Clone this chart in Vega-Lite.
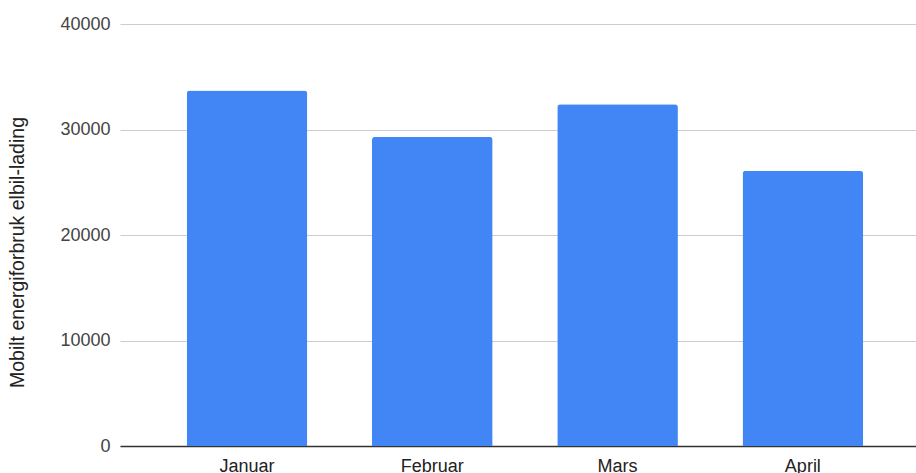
{
  "$schema": "https://vega.github.io/schema/vega-lite/v6.json",
  "autosize": "none",
  "width": 796,
  "height": 422,
  "padding": {"left": 120, "top": 24, "right": 0, "bottom": 27},
  "config": {
    "view": {"stroke": null},
    "font": "Liberation Sans"
  },
  "data": {
    "values": [
      {"maaned": "Januar", "verdi": 33700},
      {"maaned": "Februar", "verdi": 29300},
      {"maaned": "Mars", "verdi": 32400},
      {"maaned": "April", "verdi": 26100}
    ]
  },
  "mark": {"type": "bar", "color": "#4285F4", "cornerRadiusTopLeft": 3, "cornerRadiusTopRight": 3},
  "encoding": {
    "x": {
      "field": "maaned",
      "type": "nominal",
      "sort": null,
      "scale": {"paddingInner": 0.349, "paddingOuter": 0.3225, "align": 0.558},
      "axis": {
        "title": null,
        "labelAngle": 0,
        "labelFontSize": 18,
        "labelColor": "#222222",
        "labelPadding": 11,
        "ticks": false,
        "domainColor": "#333333",
        "domainWidth": 1.3
      }
    },
    "y": {
      "field": "verdi",
      "type": "quantitative",
      "scale": {"domain": [0, 40000]},
      "axis": {
        "title": "Mobilt energiforbruk elbil-lading",
        "titleFontSize": 19.5,
        "titleFontWeight": "normal",
        "titleColor": "#222222",
        "titlePadding": 32,
        "titleY": 228,
        "values": [0, 10000, 20000, 30000, 40000],
        "format": "d",
        "labelFontSize": 18,
        "labelColor": "#444444",
        "labelPadding": 10,
        "ticks": false,
        "domain": false,
        "gridColor": "#cccccc",
        "gridWidth": 1.2
      }
    }
  }
}
